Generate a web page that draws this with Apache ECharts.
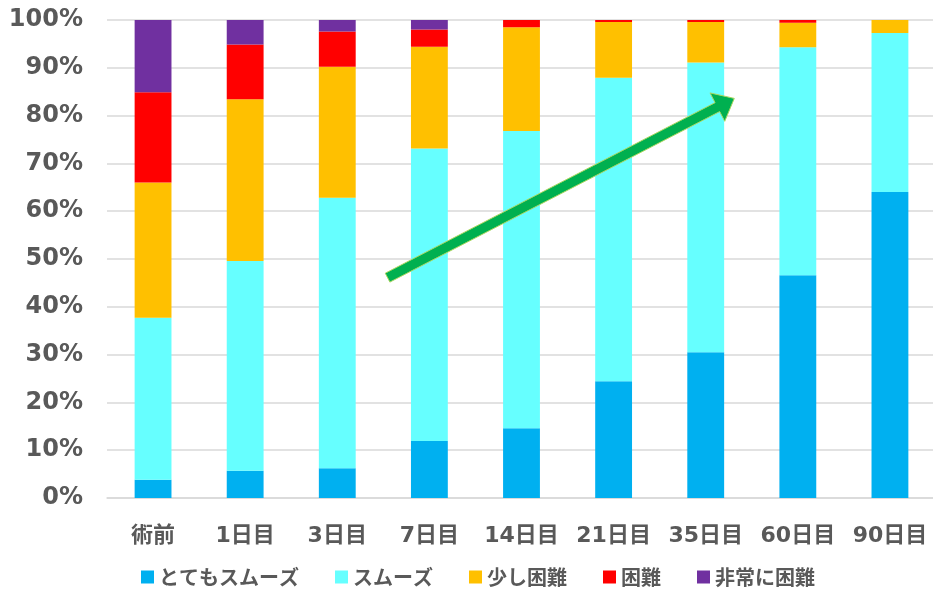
<!DOCTYPE html>
<html>
<head>
<meta charset="utf-8">
<script src="https://cdn.jsdelivr.net/npm/echarts@6/dist/echarts.min.js"></script>
<style>
html,body{margin:0;padding:0;background:#fff;}
#chart{width:933px;height:596px;}
</style>
</head>
<body>
<div id="chart"></div>
<script>
const categories = ['術前','1日目','3日目','7日目','14日目','21日目','35日目','60日目','90日目'];
const seriesNames = ['とてもスムーズ','スムーズ','少し困難','困難','非常に困難'];
const verySmooth = [3.8, 5.7, 6.2, 11.9, 14.6, 24.4, 30.5, 46.6, 64.0];
const smooth     = [33.9, 43.9, 56.6, 61.2, 62.2, 63.5, 60.6, 47.7, 33.3];
const slightlyHard = [28.3, 33.8, 27.4, 21.3, 21.7, 11.7, 8.5, 5.1, 2.7];
const hard       = [18.9, 11.5, 7.4, 3.6, 1.5, 0.4, 0.4, 0.6, 0];
const veryHard   = [15.1, 5.1, 2.4, 2.0, 0, 0, 0, 0, 0];
const colors = ['#00B0F0','#66FFFF','#FFC000','#FF0000','#7030A0'];
// arrow annotation in data space: [category index, percent]
const arrowFrom = [2.546, 46.1];
const arrowTo = [6.31, 83.6];

const allData = [verySmooth, smooth, slightlyHard, hard, veryHard];
const chart = echarts.init(document.getElementById('chart'), null, {renderer:'canvas'});
const font = '"Noto Sans CJK JP", "Noto Sans", sans-serif';
const mixFont = '"DejaVu Sans", "Noto Sans CJK JP", sans-serif';
chart.setOption({
  animation:false,
  backgroundColor:'#fff',
  grid:{left:107, width:829, top:20, bottom:98, outerBoundsMode:'none', containLabel:false},
  legend:{
    data:seriesNames, bottom:4, left:136,
    icon:'rect', itemWidth:13, itemHeight:13, itemGap:36,
    textStyle:{fontSize:20, fontWeight:'bold', color:'#595959', fontFamily:font}
  },
  xAxis:{
    type:'category', data:categories,
    axisLine:{lineStyle:{color:'#d9d9d9', width:1.5}},
    axisTick:{show:false},
    axisLabel:{interval:0, fontSize:22, fontWeight:'bold', color:'#595959', fontFamily:mixFont, margin:27}
  },
  yAxis:{
    type:'value', min:0, max:100, interval:10,
    axisLine:{show:false}, axisTick:{show:false},
    splitLine:{lineStyle:{color:'#d9d9d9', width:1.5}},
    axisLabel:{formatter:'{value}%', fontSize:24, fontWeight:'bold', color:'#595959', fontFamily:'"DejaVu Sans", sans-serif', margin:24}
  },
  series: seriesNames.map((n,i)=>({
    name:n, type:'bar', stack:'total', barWidth:'40%',
    itemStyle:{color:colors[i]},
    data:allData[i]
  }))
});

function drawArrow(){
  const p0 = chart.convertToPixel({gridIndex:0}, [0, 0]);
  const p1 = chart.convertToPixel({gridIndex:0}, [1, 100]);
  const sx = p1[0]-p0[0], sy = (p1[1]-p0[1])/100;
  const toPx = d => [p0[0] + d[0]*sx, p0[1] + d[1]*sy];
  const a = toPx(arrowFrom), b = toPx(arrowTo);
  const dx = b[0]-a[0], dy = b[1]-a[1];
  const L = Math.hypot(dx,dy);
  const ux = dx/L, uy = dy/L, nx = -uy, ny = ux;
  const hw = 5, headL = 19, headW = 16;
  const bx = b[0]-ux*headL, by = b[1]-uy*headL;
  const pts = [
    [a[0]+nx*hw, a[1]+ny*hw],
    [bx+nx*hw, by+ny*hw],
    [bx+nx*headW, by+ny*headW],
    [b[0], b[1]],
    [bx-nx*headW, by-ny*headW],
    [bx-nx*hw, by-ny*hw],
    [a[0]-nx*hw, a[1]-ny*hw]
  ];
  chart.setOption({graphic:[{
    type:'polygon', shape:{points:pts}, z:100,
    style:{fill:'#00B050', stroke:'#A9D65E', lineWidth:1}
  }]});
}
drawArrow();
</script>
</body>
</html>
